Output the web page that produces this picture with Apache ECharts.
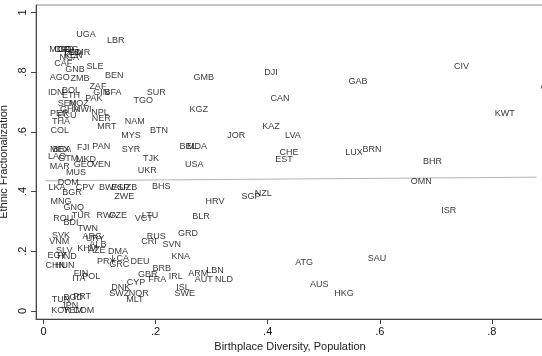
<!DOCTYPE html>
<html><head><meta charset="utf-8">
<script src="https://cdn.jsdelivr.net/npm/echarts@6/dist/echarts.min.js"></script>
<style>html,body{margin:0;padding:0;background:#fff}#c{width:542px;height:356px}</style>
</head><body><div id="c"></div>
<script>
const codes = ["UGA","LBR","MDG","COD","COG","TCD","CMR","KEN","NGA","CAF","SLE","GNB","AGO","ZMB","BEN","GMB","DJI","GAB","CIV","QAT",
"ZAF","IDN","BOL","GIN","BFA","SUR","ETH","TGO","PAK","SEN","MOZ","GHA","MWI","NPL","KGZ","CAN","KWT","PER","ECU","NER",
"THA","NAM","MRT","COL","BTN","MYS","JOR","KAZ","LVA","FJI","PAN","MEX","BRA","SYR","BEL","MDA","CHE","LUX","BRN","EST",
"BHR","LAO","GTM","MKD","TJK","GEO","VEN","USA","MAR","UKR","MUS","OMN","DOM","LKA","CPV","BGR","BHS","BWA","ESP","UZB",
"ZWE","SGP","NZL","HRV","ISR","MNG","GNQ","TUR","RWA","CZE","LTU","BLR","VCT","ROU","BDI","TWN","ARG","URY","GRD","SVK",
"VNM","RUS","CRI","SVN","ALB","KHM","AZE","DMA","SLV","EGY","HND","KNA","LCA","SAU","ATG","PRY","DEU","GRC","CHN","HUN",
"BRB","ARM","LBN","FIN","GBR","IRL","ITA","POL","AUT","NLD","FRA","CYP","AUS","DNK","ISL","HKG","SWE","SWZ","NOR","MLT",
"TUN","BGD","PRT","JPN","KOR","YEM","COM"];
const diversity = [0.076,0.129,0.029,0.037,0.044,0.051,0.065,0.053,0.046,0.035,0.092,0.056,0.029,0.065,0.126,0.286,0.406,0.561,0.746,0.903,
0.097,0.022,0.049,0.103,0.124,0.201,0.049,0.178,0.090,0.042,0.063,0.047,0.069,0.101,0.277,0.422,0.823,0.028,0.042,0.103,
0.031,0.163,0.113,0.029,0.206,0.156,0.344,0.406,0.445,0.071,0.103,0.029,0.033,0.156,0.258,0.274,0.438,0.554,0.586,0.429,
0.694,0.024,0.044,0.076,0.192,0.072,0.103,0.269,0.029,0.185,0.058,0.674,0.044,0.024,0.074,0.051,0.210,0.117,0.137,0.151,
0.144,0.370,0.392,0.306,0.723,0.031,0.054,0.067,0.113,0.133,0.190,0.281,0.179,0.035,0.049,0.079,0.087,0.092,0.258,0.031,
0.028,0.201,0.188,0.229,0.097,0.078,0.095,0.133,0.037,0.024,0.042,0.245,0.137,0.595,0.465,0.112,0.172,0.135,0.021,0.038,
0.211,0.276,0.306,0.067,0.186,0.236,0.063,0.085,0.286,0.322,0.203,0.165,0.492,0.138,0.249,0.536,0.252,0.135,0.170,0.163,
0.031,0.053,0.069,0.047,0.031,0.053,0.072];
const ethnic = [0.927,0.907,0.877,0.874,0.874,0.867,0.864,0.857,0.850,0.830,0.817,0.807,0.783,0.780,0.787,0.783,0.800,0.767,0.817,0.747,
0.750,0.733,0.737,0.733,0.733,0.733,0.723,0.706,0.710,0.693,0.693,0.676,0.673,0.663,0.673,0.710,0.660,0.660,0.656,0.646,
0.633,0.633,0.616,0.603,0.603,0.586,0.589,0.616,0.586,0.549,0.552,0.539,0.542,0.539,0.552,0.552,0.529,0.529,0.539,0.506,
0.499,0.516,0.512,0.506,0.509,0.492,0.492,0.489,0.485,0.469,0.465,0.435,0.429,0.415,0.415,0.398,0.418,0.412,0.415,0.412,
0.382,0.382,0.392,0.365,0.338,0.368,0.345,0.321,0.321,0.321,0.321,0.318,0.308,0.308,0.295,0.275,0.251,0.244,0.261,0.254,
0.234,0.248,0.234,0.221,0.221,0.208,0.201,0.198,0.201,0.187,0.184,0.184,0.177,0.177,0.161,0.164,0.164,0.154,0.151,0.151,
0.141,0.127,0.134,0.127,0.121,0.117,0.110,0.114,0.104,0.104,0.104,0.097,0.087,0.080,0.080,0.057,0.060,0.057,0.057,0.037,
0.037,0.044,0.047,0.017,0.002,0.000,0.000];
const xTicks = [0, 0.2, 0.4, 0.6, 0.8];
const yTicks = [0, 0.2, 0.4, 0.6, 0.8, 1];
const fitX = [0.003, 0.88];
const fitY = [0.436, 0.448];

const fmt = v => (v === 0 ? '0' : (v === 1 ? '1' : '.' + Math.round(v * 10)));
const FONT = 'Liberation Sans';
const chart = echarts.init(document.getElementById('c'), null, {renderer: 'canvas'});
chart.setOption({
  backgroundColor: '#fff',
  animation: false,
  grid: {left: 36, right: -2, top: 5, bottom: 37, containLabel: false, outerBoundsMode: 'none',
         show: true, borderColor: '#8a8a8a', borderWidth: 1, backgroundColor: '#fff'},
  xAxis: {
    type: 'value', min: -0.0134, max: 0.893,
    name: 'Birthplace Diversity, Population', nameLocation: 'middle', nameGap: 15,
    nameTextStyle: {fontFamily: FONT, fontSize: 11, color: '#222'},
    axisLine: {show: true, onZero: false, lineStyle: {color: '#444', width: 1}},
    axisTick: {show: true, length: 5, customValues: xTicks, lineStyle: {color: '#444'}},
    axisLabel: {customValues: xTicks, formatter: fmt, margin: 7, fontFamily: FONT, fontSize: 11, color: '#111'},
    splitLine: {show: false}
  },
  yAxis: {
    type: 'value', min: -0.0268, max: 1.0245,
    name: 'Ethnic Fractionalization', nameLocation: 'middle', nameGap: 16, nameRotate: 90,
    nameTextStyle: {fontFamily: FONT, fontSize: 11, color: '#222'},
    axisLine: {show: true, onZero: false, lineStyle: {color: '#444', width: 1}},
    axisTick: {show: true, length: 5, customValues: yTicks, lineStyle: {color: '#444'}},
    axisLabel: {customValues: yTicks, formatter: fmt, rotate: 90, margin: 8, fontFamily: FONT, fontSize: 11, color: '#111'},
    splitLine: {show: false}
  },
  series: [
    {
      type: 'line', data: fitX.map((x, i) => [x, fitY[i]]), symbol: 'none', silent: true,
      lineStyle: {color: '#b4b4b4', width: 1}, z: 1
    },
    {
      type: 'scatter', clip: false, symbolSize: 1, itemStyle: {color: 'rgba(0,0,0,0)'},
      data: codes.map((c, i) => ({value: [diversity[i], ethnic[i]], name: c})),
      label: {show: true, position: 'inside', formatter: p => p.name, fontFamily: FONT, fontSize: 9, color: '#000'},
      z: 3
    }
  ]
});
</script></body></html>
